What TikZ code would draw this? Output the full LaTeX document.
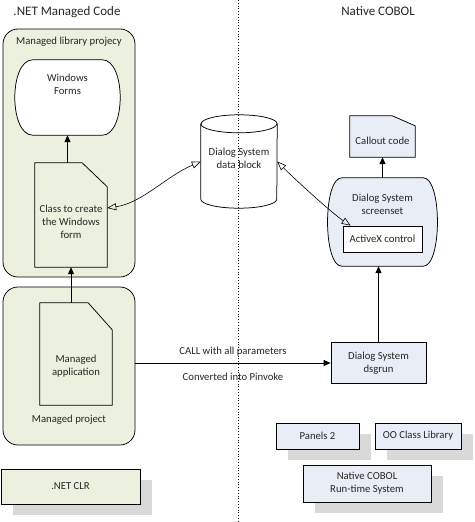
\documentclass[tikz,border=0pt]{standalone}
\usepackage{fontspec}
\setmainfont{Carlito}
\usetikzlibrary{arrows.meta,shadows}
\definecolor{netgreen}{HTML}{EBF1DE}
\definecolor{cobolblue}{HTML}{E9EDF6}
\definecolor{shadowgray}{HTML}{D9D9D9}
\pgfdeclarelayer{back}
\pgfdeclarelayer{mid}
\pgfsetlayers{back,mid,main}

\begin{document}
\begin{tikzpicture}[x=1pt,y=-1pt,
    every node/.style={font=\fontsize{10.7pt}{13pt}\selectfont,text=black!85},
    every label/.style={align=center},
    title/.style={font=\fontsize{13pt}{15pt}\selectfont},
    ln/.style={line width=0.75pt},
    boxnode/.style={draw,ln,align=center,inner sep=0pt},
    grp/.style={boxnode,fill=netgreen,rounded corners=15pt},
    doc/.style={inner sep=0pt},
    shadowed/.style={general shadow={fill=shadowgray,shadow xshift=12pt,shadow yshift=-11pt}},
    arr/.style={ln,-{Triangle[length=7pt,width=6pt]}},
    link/.style={line width=0.6pt,{Triangle[open,length=9pt,width=7pt]}-{Triangle[open,length=9pt,width=7pt]}}]
  \useasboundingbox (0,0) rectangle (474,522);
  % titles
  \node[title] (nettitle) at (67,12) {.NET Managed Code};
  \node[title] (cobtitle) at (378,11) {Native COBOL};
  % managed side
  \begin{pgfonlayer}{back}
    \node[grp,minimum width=132pt,minimum height=248pt,
      label={[yshift=111pt]center:Managed library projecy}] (libproj) at (69,153) {};
    \node[grp,minimum width=132pt,minimum height=158pt,
      label={[yshift=-54pt]center:Managed project}] (manproj) at (69,366) {};
  \end{pgfonlayer}
  \node[doc,minimum width=105pt,minimum height=75pt,
    label={[yshift=13.5pt]center:Windows\\Forms}] (forms) at (67.5,97.5) {};
  \node[doc,minimum width=72pt,minimum height=104pt,
    label={[yshift=-7pt]center:Class to create\\the Windows\\form}] (cls) at (71,215) {};
  \node[doc,minimum width=72pt,minimum height=102pt,
    label={[yshift=-12.5pt]center:Managed\\application}] (manapp) at (76,354) {};
  \node[boxnode,shadowed,fill=netgreen,minimum width=139pt,minimum height=35pt] (clr) at (70.5,486.5) {.NET CLR};
  % native side
  \node[doc,minimum width=76pt,minimum height=93pt,
    label={[yshift=3.5pt]center:Dialog System\\data block}] (dsdata) at (239,161.5) {};
  \node[doc,minimum width=65pt,minimum height=41pt,
    label={[yshift=-4.5pt]center:Callout code}] (callout) at (382.5,136.5) {};
  \node[doc,minimum width=109pt,minimum height=88pt,
    label={[yshift=18pt]center:Dialog System\\screenset}] (screen) at (382.5,222) {};
  \node[boxnode,fill=white,minimum width=79pt,minimum height=26pt] (activex) at (382.5,239) {ActiveX control};
  \node[boxnode,fill=cobolblue,minimum width=95pt,minimum height=41pt] (dsgrun) at (378.5,363) {Dialog System\\dsgrun};
  \node[boxnode,shadowed,fill=cobolblue,minimum width=83pt,minimum height=26pt] (panels) at (317.5,436) {Panels 2};
  \node[boxnode,shadowed,fill=cobolblue,minimum width=86pt,minimum height=26pt] (oolib) at (418,436) {OO Class Library};
  \node[boxnode,shadowed,fill=cobolblue,minimum width=128pt,minimum height=37pt] (rts) at (367,483.5) {Native COBOL\\Run-time System};
  % outlines of the shaped nodes
  \begin{pgfonlayer}{mid}
    \draw[ln,fill=white] ([xshift=18pt]forms.north west) -- ([xshift=-18pt]forms.north east)
      .. controls ([xshift=6pt]forms.north east) and ([xshift=6pt]forms.south east) .. ([xshift=-18pt]forms.south east)
      -- ([xshift=18pt]forms.south west)
      .. controls ([xshift=-6pt]forms.south west) and ([xshift=-6pt]forms.north west) .. cycle;
    \draw[ln,fill=netgreen] (cls.north west) -- ([xshift=-25pt]cls.north east) -- ([yshift=-24pt]cls.north east)
      -- (cls.south east) -- (cls.south west) -- cycle;
    \draw[ln,fill=netgreen] (manapp.north west) -- ([xshift=-24pt]manapp.north east) -- ([yshift=-27pt]manapp.north east)
      -- (manapp.south east) -- (manapp.south west) -- cycle;
    \draw[ln,fill=white] ([yshift=-9pt]dsdata.north west) -- ([yshift=9pt]dsdata.south west)
      arc[start angle=180,end angle=0,x radius=38,y radius=9] -- ([yshift=-9pt]dsdata.north east)
      arc[start angle=0,end angle=-180,x radius=38,y radius=9] -- cycle;
    \draw[ln] ([yshift=-9pt]dsdata.north west) arc[start angle=180,end angle=0,x radius=38,y radius=9];
    \draw[ln,fill=cobolblue] (callout.north west) -- ([xshift=-23pt]callout.north east) -- ([yshift=-10pt]callout.north east)
      -- (callout.south east) -- (callout.south west) -- cycle;
    \draw[ln,fill=cobolblue] ([xshift=14pt]screen.north west) -- ([xshift=-14pt]screen.north east)
      .. controls ([xshift=5pt]screen.north east) and ([xshift=5pt]screen.south east) .. ([xshift=-14pt]screen.south east)
      -- ([xshift=14pt]screen.south west)
      .. controls ([xshift=-5pt]screen.south west) and ([xshift=-5pt]screen.north west) .. cycle;
  \end{pgfonlayer}
  % connectors
  \draw[arr] (cls.north -| forms.south) -- (forms.south);
  \draw[arr] (manapp.north -| cls.south) -- (cls.south);
  \draw[arr] (manproj.east |- dsgrun.west) -- (dsgrun.west)
    node[midway,above=3pt] {CALL with all parameters}
    node[midway,below=6pt] {Converted into Pinvoke};
  \draw[arr] (dsgrun.north) -- (dsgrun.north |- screen.south);
  \draw[arr] (screen.north) -- (callout.south);
  \draw[link] ([yshift=7pt]cls.east) .. controls +(35,-5) and +(-35,15) .. (dsdata.west);
  \draw[link] (dsdata.east) .. controls +(20,20) and +(-18,-12) .. ([xshift=8pt]activex.north west);
  % divider
  \draw[dotted,line width=0.8pt] (238,0) -- (238,522);
\end{tikzpicture}
\end{document}
